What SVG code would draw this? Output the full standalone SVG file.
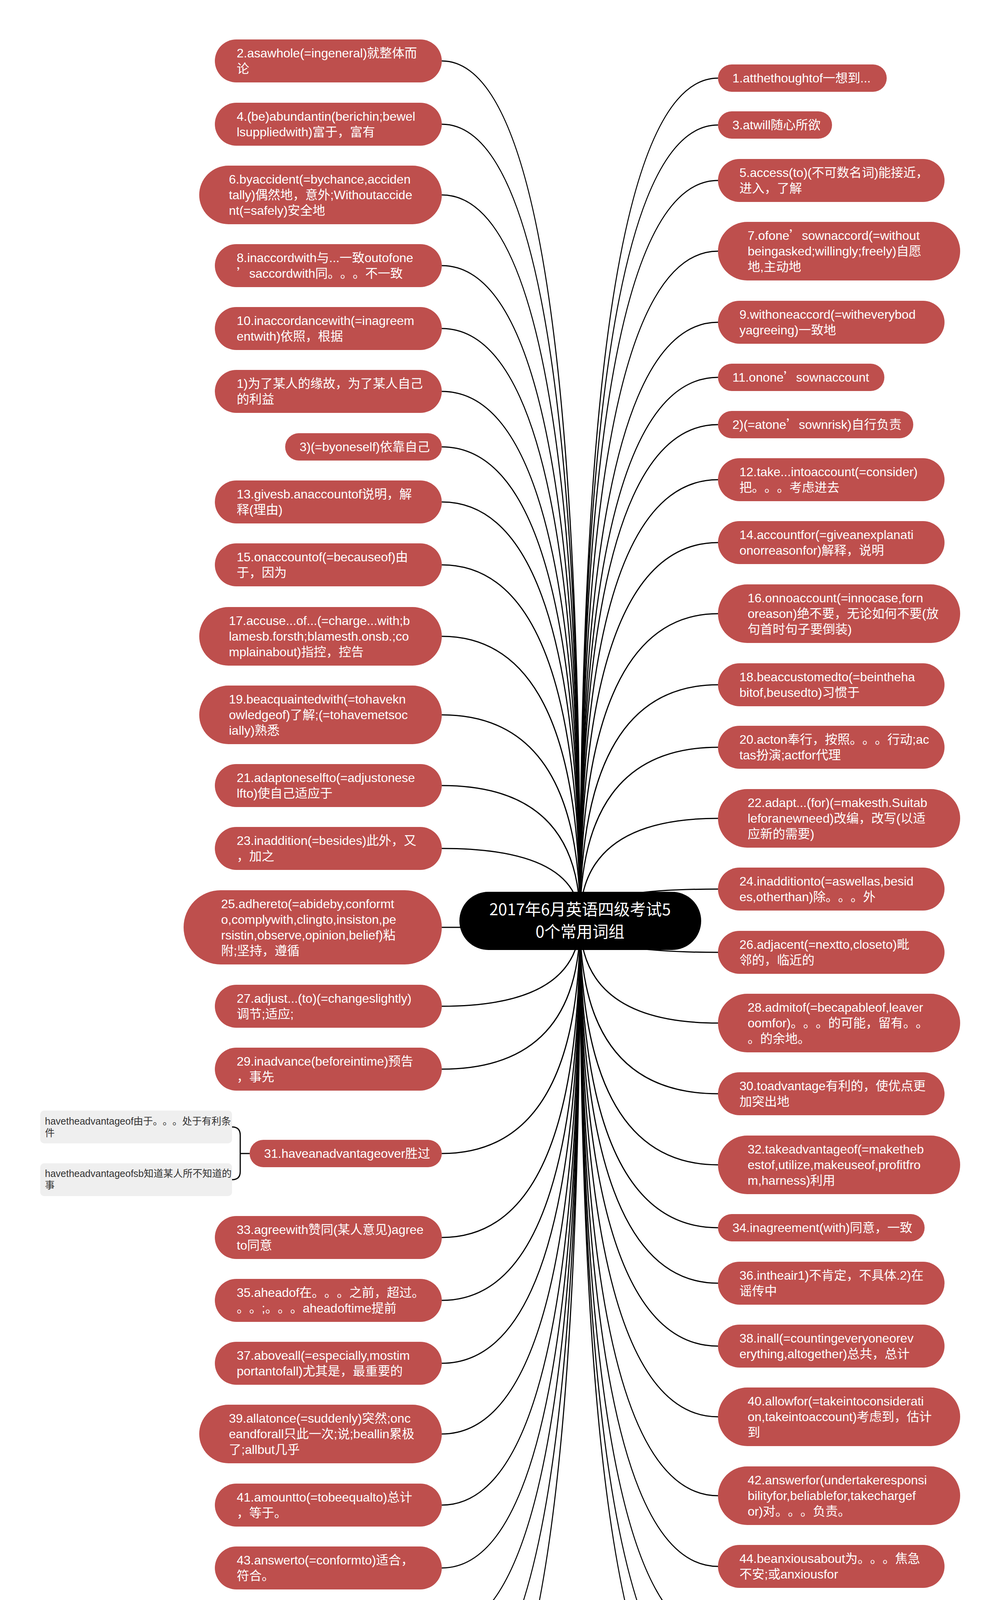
<svg xmlns="http://www.w3.org/2000/svg" width="2560" height="4735" viewBox="0 0 2560 4735">
<style>
.bg{fill:#ffffff}
.n{fill:#BE4F4D}
.t{font-family:"Liberation Sans","Noto Sans CJK SC",sans-serif;font-size:32px;fill:#ffffff;text-spacing-trim:space-all}
.q{font-family:"Noto Sans CJK SC",sans-serif}
.root{fill:#000000}
.rt{font-family:"Noto Sans CJK SC","Liberation Sans",sans-serif;font-size:41px;fill:#ffffff;text-anchor:middle}
.c{fill:#EFEFEF}
.ct{font-family:"Liberation Sans","Noto Sans CJK SC",sans-serif;font-size:25px;fill:#333333;text-spacing-trim:space-all}
.ln{fill:none;stroke:#000000;stroke-width:3}
</style>
<rect class="bg" x="0" y="0" width="2560" height="4735"/>
<g id="connectors">
<path class="ln" d="M1485,2357 Q1485,156 1131,156"/>
<path class="ln" d="M1485,2357 Q1485,318 1131,318"/>
<path class="ln" d="M1485,2357 Q1485,499 1131,499"/>
<path class="ln" d="M1485,2357 Q1485,680 1131,680"/>
<path class="ln" d="M1485,2357 Q1485,841 1131,841"/>
<path class="ln" d="M1485,2357 Q1485,1002 1131,1002"/>
<path class="ln" d="M1485,2357 Q1485,1144 1131,1144"/>
<path class="ln" d="M1485,2357 Q1485,1285 1131,1285"/>
<path class="ln" d="M1485,2357 Q1485,1446 1131,1446"/>
<path class="ln" d="M1485,2357 Q1485,1629 1131,1629"/>
<path class="ln" d="M1485,2357 Q1485,1830 1131,1830"/>
<path class="ln" d="M1485,2357 Q1485,2011 1131,2011"/>
<path class="ln" d="M1485,2357 Q1485,2172 1131,2172"/>
<path class="ln" d="M1485,2357 Q1485,2374 1131,2374"/>
<path class="ln" d="M1485,2357 Q1485,2576 1131,2576"/>
<path class="ln" d="M1485,2357 Q1485,2737 1131,2737"/>
<path class="ln" d="M1485,2357 Q1485,2953 1131,2953"/>
<path class="ln" d="M1485,2357 Q1485,3168 1131,3168"/>
<path class="ln" d="M1485,2357 Q1485,3329 1131,3329"/>
<path class="ln" d="M1485,2357 Q1485,3490 1131,3490"/>
<path class="ln" d="M1485,2357 Q1485,3671 1131,3671"/>
<path class="ln" d="M1485,2357 Q1485,3853 1131,3853"/>
<path class="ln" d="M1485,2357 Q1485,4014 1131,4014"/>
<path class="ln" d="M1485,2357 Q1485,4175 1131,4175"/>
<path class="ln" d="M1485,2357 Q1485,4357 1131,4357"/>
<path class="ln" d="M1485,2357 Q1485,4559 1131,4559"/>
<path class="ln" d="M1485,2357 Q1485,200 1838,200"/>
<path class="ln" d="M1485,2357 Q1485,320 1838,320"/>
<path class="ln" d="M1485,2357 Q1485,462 1838,462"/>
<path class="ln" d="M1485,2357 Q1485,643 1838,643"/>
<path class="ln" d="M1485,2357 Q1485,825 1838,825"/>
<path class="ln" d="M1485,2357 Q1485,966 1838,966"/>
<path class="ln" d="M1485,2357 Q1485,1087 1838,1087"/>
<path class="ln" d="M1485,2357 Q1485,1228 1838,1228"/>
<path class="ln" d="M1485,2357 Q1485,1389 1838,1389"/>
<path class="ln" d="M1485,2357 Q1485,1571 1838,1571"/>
<path class="ln" d="M1485,2357 Q1485,1753 1838,1753"/>
<path class="ln" d="M1485,2357 Q1485,1913 1838,1913"/>
<path class="ln" d="M1485,2357 Q1485,2095 1838,2095"/>
<path class="ln" d="M1485,2357 Q1485,2276 1838,2276"/>
<path class="ln" d="M1485,2357 Q1485,2438 1838,2438"/>
<path class="ln" d="M1485,2357 Q1485,2619 1838,2619"/>
<path class="ln" d="M1485,2357 Q1485,2800 1838,2800"/>
<path class="ln" d="M1485,2357 Q1485,2982 1838,2982"/>
<path class="ln" d="M1485,2357 Q1485,3143 1838,3143"/>
<path class="ln" d="M1485,2357 Q1485,3285 1838,3285"/>
<path class="ln" d="M1485,2357 Q1485,3446 1838,3446"/>
<path class="ln" d="M1485,2357 Q1485,3627 1838,3627"/>
<path class="ln" d="M1485,2357 Q1485,3829 1838,3829"/>
<path class="ln" d="M1485,2357 Q1485,4010 1838,4010"/>
<path class="ln" d="M1485,2357 Q1485,4192 1838,4192"/>
<path class="ln" d="M1485,2357 Q1485,4353 1838,4353"/>
<path class="ln" d="M1485,2357 Q1485,4494 1838,4494"/>
<path class="ln" d="M639,2953 H615 M594,2885 Q615,2885 615,2906 V2999 Q615,3020 594,3020"/>
</g>
<g id="root">
<rect class="root" x="1176" y="2283" width="619" height="149" rx="74.5"/>
<text class="rt"><tspan x="1485" y="2343">2017年6月英语四级考试5</tspan><tspan x="1485" y="2400">0个常用词组</tspan></text>
</g>
<g id="L2"><rect class="n" x="550" y="101" width="581" height="110" rx="55"/><text class="t"><tspan x="606" y="147">2.asawhole(=ingeneral)就整体而</tspan><tspan x="606" y="187">论</tspan></text></g>
<g id="L4"><rect class="n" x="550" y="263" width="581" height="110" rx="55"/><text class="t"><tspan x="606" y="309">4.(be)abundantin(berichin;bewel</tspan><tspan x="606" y="349">lsuppliedwith)富于，富有</tspan></text></g>
<g id="L6"><rect class="n" x="510" y="424" width="621" height="150" rx="75"/><text class="t"><tspan x="586" y="470">6.byaccident(=bychance,acciden</tspan><tspan x="586" y="510">tally)偶然地，意外;Withoutaccide</tspan><tspan x="586" y="550">nt(=safely)安全地</tspan></text></g>
<g id="L8"><rect class="n" x="550" y="625" width="581" height="110" rx="55"/><text class="t"><tspan x="606" y="671">8.inaccordwith与...一致outofone</tspan><tspan x="606" y="711"><tspan class="q">’</tspan>saccordwith同。。。不一致</tspan></text></g>
<g id="L10"><rect class="n" x="550" y="786" width="581" height="110" rx="55"/><text class="t"><tspan x="606" y="832">10.inaccordancewith(=inagreem</tspan><tspan x="606" y="872">entwith)依照，根据</tspan></text></g>
<g id="L1p"><rect class="n" x="550" y="947" width="581" height="110" rx="55"/><text class="t"><tspan x="606" y="993">1)为了某人的缘故，为了某人自己</tspan><tspan x="606" y="1033">的利益</tspan></text></g>
<g id="L3p"><rect class="n" x="730" y="1109" width="401" height="70" rx="35"/><text class="t"><tspan x="767" y="1155">3)(=byoneself)依靠自己</tspan></text></g>
<g id="L13"><rect class="n" x="550" y="1230" width="581" height="110" rx="55"/><text class="t"><tspan x="606" y="1276">13.givesb.anaccountof说明，解</tspan><tspan x="606" y="1316">释(理由)</tspan></text></g>
<g id="L15"><rect class="n" x="550" y="1391" width="581" height="110" rx="55"/><text class="t"><tspan x="606" y="1437">15.onaccountof(=becauseof)由</tspan><tspan x="606" y="1477">于，因为</tspan></text></g>
<g id="L17"><rect class="n" x="510" y="1554" width="621" height="150" rx="75"/><text class="t"><tspan x="586" y="1600">17.accuse...of...(=charge...with;b</tspan><tspan x="586" y="1640">lamesb.forsth;blamesth.onsb.;co</tspan><tspan x="586" y="1680">mplainabout)指控，控告</tspan></text></g>
<g id="L19"><rect class="n" x="510" y="1755" width="621" height="150" rx="75"/><text class="t"><tspan x="586" y="1801">19.beacquaintedwith(=tohavekn</tspan><tspan x="586" y="1841">owledgeof)了解;(=tohavemetsoc</tspan><tspan x="586" y="1881">ially)熟悉</tspan></text></g>
<g id="L21"><rect class="n" x="550" y="1956" width="581" height="110" rx="55"/><text class="t"><tspan x="606" y="2002">21.adaptoneselfto(=adjustonese</tspan><tspan x="606" y="2042">lfto)使自己适应于</tspan></text></g>
<g id="L23"><rect class="n" x="550" y="2117" width="581" height="110" rx="55"/><text class="t"><tspan x="606" y="2163">23.inaddition(=besides)此外，又</tspan><tspan x="606" y="2203">，加之</tspan></text></g>
<g id="L25"><rect class="n" x="470" y="2279" width="661" height="190" rx="95"/><text class="t"><tspan x="566" y="2325">25.adhereto(=abideby,conformt</tspan><tspan x="566" y="2365">o,complywith,clingto,insiston,pe</tspan><tspan x="566" y="2405">rsistin,observe,opinion,belief)粘</tspan><tspan x="566" y="2445">附;坚持，遵循</tspan></text></g>
<g id="L27"><rect class="n" x="550" y="2521" width="581" height="110" rx="55"/><text class="t"><tspan x="606" y="2567">27.adjust...(to)(=changeslightly)</tspan><tspan x="606" y="2607">调节;适应;</tspan></text></g>
<g id="L29"><rect class="n" x="550" y="2682" width="581" height="110" rx="55"/><text class="t"><tspan x="606" y="2728">29.inadvance(beforeintime)预告</tspan><tspan x="606" y="2768">，事先</tspan></text></g>
<g id="L31"><rect class="n" x="639" y="2918" width="492" height="70" rx="35"/><text class="t"><tspan x="676" y="2964">31.haveanadvantageover胜过</tspan></text></g>
<g id="L31a"><rect class="c" x="103" y="2843" width="491" height="84" rx="10"/><text class="ct"><tspan x="115" y="2879">havetheadvantageof由于。。。处于有利条</tspan><tspan x="115" y="2909">件</tspan></text></g>
<g id="L31b"><rect class="c" x="103" y="2978" width="491" height="84" rx="10"/><text class="ct"><tspan x="115" y="3013">havetheadvantageofsb知道某人所不知道的</tspan><tspan x="115" y="3043">事</tspan></text></g>
<g id="L33"><rect class="n" x="550" y="3113" width="581" height="110" rx="55"/><text class="t"><tspan x="606" y="3159">33.agreewith赞同(某人意见)agree</tspan><tspan x="606" y="3199">to同意</tspan></text></g>
<g id="L35"><rect class="n" x="550" y="3274" width="581" height="110" rx="55"/><text class="t"><tspan x="606" y="3320">35.aheadof在。。。之前，超过。</tspan><tspan x="606" y="3360">。。;。。。aheadoftime提前</tspan></text></g>
<g id="L37"><rect class="n" x="550" y="3435" width="581" height="110" rx="55"/><text class="t"><tspan x="606" y="3481">37.aboveall(=especially,mostim</tspan><tspan x="606" y="3521">portantofall)尤其是，最重要的</tspan></text></g>
<g id="L39"><rect class="n" x="510" y="3596" width="621" height="150" rx="75"/><text class="t"><tspan x="586" y="3642">39.allatonce(=suddenly)突然;onc</tspan><tspan x="586" y="3682">eandforall只此一次;说;beallin累极</tspan><tspan x="586" y="3722">了;allbut几乎</tspan></text></g>
<g id="L41"><rect class="n" x="550" y="3798" width="581" height="110" rx="55"/><text class="t"><tspan x="606" y="3844">41.amountto(=tobeequalto)总计</tspan><tspan x="606" y="3884">，等于。</tspan></text></g>
<g id="L43"><rect class="n" x="550" y="3959" width="581" height="110" rx="55"/><text class="t"><tspan x="606" y="4005">43.answerto(=conformto)适合，</tspan><tspan x="606" y="4045">符合。</tspan></text></g>
<g id="L45"><rect class="n" x="550" y="4120" width="581" height="110" rx="55"/><text class="t"><tspan x="606" y="4166">45.apologizetosb.forsth.为。。。</tspan><tspan x="606" y="4206">向。。。道歉</tspan></text></g>
<g id="L47"><rect class="n" x="510" y="4282" width="621" height="150" rx="75"/><text class="t"><tspan x="586" y="4328">47.applytosb.forsth.为。。。向。</tspan><tspan x="586" y="4368">。。申请;applyfor申请;applyto适</tspan><tspan x="586" y="4408">用。</tspan></text></g>
<g id="L49"><rect class="n" x="510" y="4484" width="621" height="150" rx="75"/><text class="t"><tspan x="586" y="4530">49.approveof(=consentto,beinfa</tspan><tspan x="586" y="4570">vorof,favor,agreeto,considergoo</tspan><tspan x="586" y="4610">d,right)赞成，approvevt.批准</tspan></text></g>
<g id="R1"><rect class="n" x="1838" y="165" width="432" height="70" rx="35"/><text class="t"><tspan x="1875" y="211">1.atthethoughtof一想到...</tspan></text></g>
<g id="R3"><rect class="n" x="1838" y="285" width="292" height="70" rx="35"/><text class="t"><tspan x="1875" y="331">3.atwill随心所欲</tspan></text></g>
<g id="R5"><rect class="n" x="1838" y="407" width="580" height="110" rx="55"/><text class="t"><tspan x="1893" y="453">5.access(to)(不可数名词)能接近，</tspan><tspan x="1893" y="493">进入，了解</tspan></text></g>
<g id="R7"><rect class="n" x="1838" y="568" width="620" height="150" rx="75"/><text class="t"><tspan x="1914" y="614">7.ofone<tspan class="q">’</tspan>sownaccord(=without</tspan><tspan x="1914" y="654">beingasked;willingly;freely)自愿</tspan><tspan x="1914" y="694">地,主动地</tspan></text></g>
<g id="R9"><rect class="n" x="1838" y="770" width="580" height="110" rx="55"/><text class="t"><tspan x="1893" y="816">9.withoneaccord(=witheverybod</tspan><tspan x="1893" y="856">yagreeing)一致地</tspan></text></g>
<g id="R11"><rect class="n" x="1838" y="931" width="426" height="70" rx="35"/><text class="t"><tspan x="1875" y="977">11.onone<tspan class="q">’</tspan>sownaccount</tspan></text></g>
<g id="R2p"><rect class="n" x="1838" y="1052" width="500" height="70" rx="35"/><text class="t"><tspan x="1875" y="1098">2)(=atone<tspan class="q">’</tspan>sownrisk)自行负责</tspan></text></g>
<g id="R12"><rect class="n" x="1838" y="1173" width="580" height="110" rx="55"/><text class="t"><tspan x="1893" y="1219">12.take...intoaccount(=consider)</tspan><tspan x="1893" y="1259">把。。。考虑进去</tspan></text></g>
<g id="R14"><rect class="n" x="1838" y="1334" width="580" height="110" rx="55"/><text class="t"><tspan x="1893" y="1380">14.accountfor(=giveanexplanati</tspan><tspan x="1893" y="1420">onorreasonfor)解释，说明</tspan></text></g>
<g id="R16"><rect class="n" x="1838" y="1496" width="620" height="150" rx="75"/><text class="t"><tspan x="1914" y="1542">16.onnoaccount(=innocase,forn</tspan><tspan x="1914" y="1582">oreason)绝不要，无论如何不要(放</tspan><tspan x="1914" y="1622">句首时句子要倒装)</tspan></text></g>
<g id="R18"><rect class="n" x="1838" y="1698" width="580" height="110" rx="55"/><text class="t"><tspan x="1893" y="1744">18.beaccustomedto(=beintheha</tspan><tspan x="1893" y="1784">bitof,beusedto)习惯于</tspan></text></g>
<g id="R20"><rect class="n" x="1838" y="1858" width="580" height="110" rx="55"/><text class="t"><tspan x="1893" y="1904">20.acton奉行，按照。。。行动;ac</tspan><tspan x="1893" y="1944">tas扮演;actfor代理</tspan></text></g>
<g id="R22"><rect class="n" x="1838" y="2020" width="620" height="150" rx="75"/><text class="t"><tspan x="1914" y="2066">22.adapt...(for)(=makesth.Suitab</tspan><tspan x="1914" y="2106">leforanewneed)改编，改写(以适</tspan><tspan x="1914" y="2146">应新的需要)</tspan></text></g>
<g id="R24"><rect class="n" x="1838" y="2221" width="580" height="110" rx="55"/><text class="t"><tspan x="1893" y="2267">24.inadditionto(=aswellas,besid</tspan><tspan x="1893" y="2307">es,otherthan)除。。。外</tspan></text></g>
<g id="R26"><rect class="n" x="1838" y="2383" width="580" height="110" rx="55"/><text class="t"><tspan x="1893" y="2429">26.adjacent(=nextto,closeto)毗</tspan><tspan x="1893" y="2469">邻的，临近的</tspan></text></g>
<g id="R28"><rect class="n" x="1838" y="2544" width="620" height="150" rx="75"/><text class="t"><tspan x="1914" y="2590">28.admitof(=becapableof,leaver</tspan><tspan x="1914" y="2630">oomfor)。。。的可能，留有。。</tspan><tspan x="1914" y="2670">。的余地。</tspan></text></g>
<g id="R30"><rect class="n" x="1838" y="2745" width="580" height="110" rx="55"/><text class="t"><tspan x="1893" y="2791">30.toadvantage有利的，使优点更</tspan><tspan x="1893" y="2831">加突出地</tspan></text></g>
<g id="R32"><rect class="n" x="1838" y="2907" width="620" height="150" rx="75"/><text class="t"><tspan x="1914" y="2953">32.takeadvantageof(=maketheb</tspan><tspan x="1914" y="2993">estof,utilize,makeuseof,profitfro</tspan><tspan x="1914" y="3033">m,harness)利用</tspan></text></g>
<g id="R34"><rect class="n" x="1838" y="3108" width="529" height="70" rx="35"/><text class="t"><tspan x="1875" y="3154">34.inagreement(with)同意，一致</tspan></text></g>
<g id="R36"><rect class="n" x="1838" y="3230" width="580" height="110" rx="55"/><text class="t"><tspan x="1893" y="3276">36.intheair1)不肯定，不具体.2)在</tspan><tspan x="1893" y="3316">谣传中</tspan></text></g>
<g id="R38"><rect class="n" x="1838" y="3391" width="580" height="110" rx="55"/><text class="t"><tspan x="1893" y="3437">38.inall(=countingeveryoneorev</tspan><tspan x="1893" y="3477">erything,altogether)总共，总计</tspan></text></g>
<g id="R40"><rect class="n" x="1838" y="3552" width="620" height="150" rx="75"/><text class="t"><tspan x="1914" y="3598">40.allowfor(=takeintoconsiderati</tspan><tspan x="1914" y="3638">on,takeintoaccount)考虑到，估计</tspan><tspan x="1914" y="3678">到</tspan></text></g>
<g id="R42"><rect class="n" x="1838" y="3754" width="620" height="150" rx="75"/><text class="t"><tspan x="1914" y="3800">42.answerfor(undertakeresponsi</tspan><tspan x="1914" y="3840">bilityfor,beliablefor,takechargef</tspan><tspan x="1914" y="3880">or)对。。。负责。</tspan></text></g>
<g id="R44"><rect class="n" x="1838" y="3955" width="580" height="110" rx="55"/><text class="t"><tspan x="1893" y="4001">44.beanxiousabout为。。。焦急</tspan><tspan x="1893" y="4041">不安;或anxiousfor</tspan></text></g>
<g id="R46"><rect class="n" x="1838" y="4117" width="620" height="150" rx="75"/><text class="t"><tspan x="1914" y="4163">46.appealtosb.forsth.为某事向某</tspan><tspan x="1914" y="4203">人呼吁;appealtosb.对某人有吸引</tspan><tspan x="1914" y="4243">力</tspan></text></g>
<g id="R48"><rect class="n" x="1838" y="4318" width="471" height="70" rx="35"/><text class="t"><tspan x="1875" y="4364">48.applyto与。。。有关;适用</tspan></text></g>
<g id="R50"><rect class="n" x="1838" y="4439" width="580" height="110" rx="55"/><text class="t"><tspan x="1893" y="4485">50.arisefrom(=becausedby)由...</tspan><tspan x="1893" y="4525">引起。</tspan></text></g>
</svg>
